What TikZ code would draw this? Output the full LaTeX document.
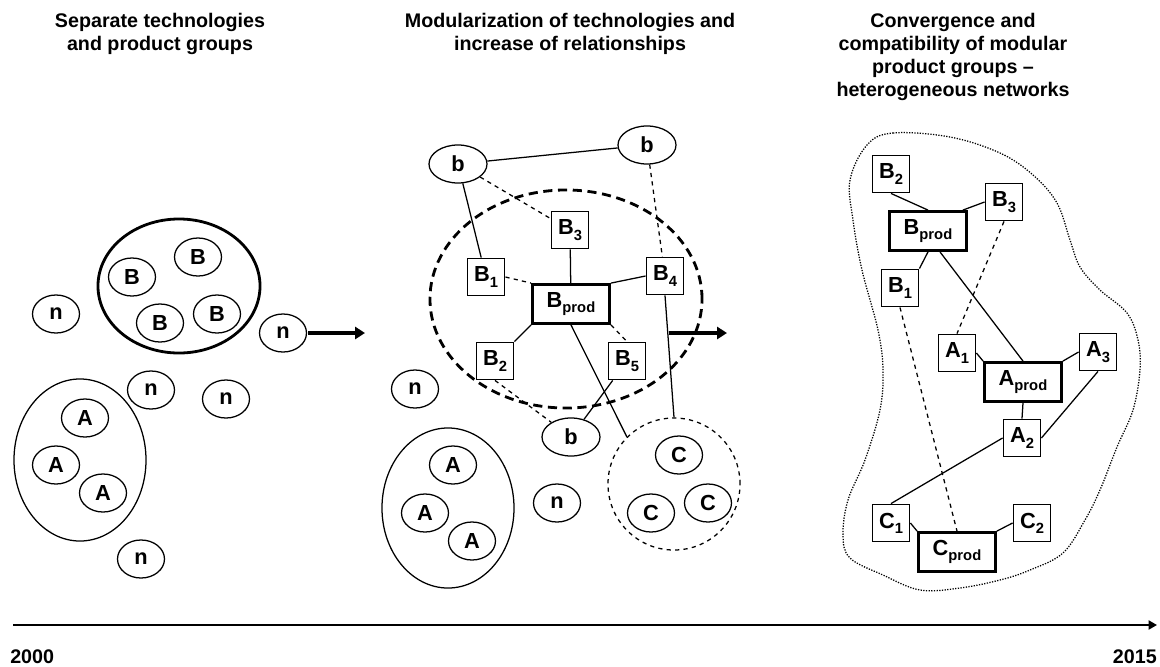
\documentclass[tikz,border=0pt]{standalone}
\usepackage{fontspec}
\setmainfont{Liberation Sans}
\usetikzlibrary{shapes,arrows,arrows.meta,positioning,calc}
\newcommand{\lowtxt}[1]{\raisebox{-0.45ex}{\fontsize{10.5}{10.5}\selectfont #1}}

\begin{document}
\begin{tikzpicture}[x=0.025cm, y=-0.025cm,
  font=\fontsize{14}{16.5}\selectfont\bfseries,
  tech/.style={draw, ellipse, line width=0.9pt, minimum width=1.175cm, minimum height=0.95cm, inner sep=0pt, font=\fontsize{15.5}{16}\selectfont\bfseries},
  loose/.style={tech, minimum width=1.45cm},
  modbox/.style={draw, line width=0.9pt, minimum size=0.94cm, inner sep=0pt, font=\fontsize{15.5}{16}\selectfont\bfseries},
  prodbox/.style={modbox, line width=2pt, minimum width=1.925cm, minimum height=0.975cm},
  link/.style={line width=0.9pt},
  weak/.style={line width=0.9pt, dashed},
  phase/.style={line width=2.2pt, -{Triangle[length=7pt, width=8.5pt]}}]
  \useasboundingbox (0,0) rectangle (1160,666);

  % Titles
  \node[align=center] (title1) at (160,34) {Separate technologies\\and product groups};
  \node[align=center] (title2) at (570,34) {Modularization of technologies and\\increase of relationships};
  \node[align=center] (title3) at (953,57) {Convergence and\\compatibility of modular\\product groups --\\heterogeneous networks};

  % Separate groups
  \node[draw, ellipse, line width=2pt, minimum width=4.05cm, minimum height=3.35cm] (Bset) at (179,286) {};
  \node[tech] (Bs1) at (132,277) {B};
  \node[tech] (Bs2) at (198,257) {B};
  \node[tech] (Bs3) at (160,323) {B};
  \node[tech] (Bs4) at (217,314) {B};
  \node[draw, ellipse, line width=0.9pt, minimum width=3.3cm, minimum height=4.05cm] (Aset) at (80,460) {};
  \node[tech] (As1) at (85,418) {A};
  \node[tech] (As2) at (56,465) {A};
  \node[tech] (As3) at (103,493) {A};
  \node[tech] (ns1) at (56,314) {n};
  \node[tech] (ns2) at (283,333) {n};
  \node[tech] (ns3) at (151,390) {n};
  \node[tech] (ns4) at (226,399) {n};
  \node[tech] (ns5) at (141,559) {n};

  % Phase arrows
  \coordinate (go1) at (308,333);
  \coordinate (to1) at (365,333);
  \coordinate (go2) at (669,333);
  \coordinate (to2) at (727,333);
  \draw[phase] (go1) -- (to1);
  \draw[phase] (go2) -- (to2);

  % Modularization
  \node[draw, ellipse, dash pattern=on 6.5pt off 4pt, line width=2pt, minimum width=6.8cm, minimum height=5.45cm] (Bmod) at (566,299) {};
  \node[loose] (bL) at (458,164) {b};
  \node[loose] (bR) at (647,145) {b};
  \node[loose] (bD) at (571,437) {b};
  \node[prodbox] (Bprod) at (571,304) {B\lowtxt{prod}};
  \node[modbox] (B1) at (486,277) {B\lowtxt{1}};
  \node[modbox] (B2) at (495,361) {B\lowtxt{2}};
  \node[modbox] (B3) at (570,230) {B\lowtxt{3}};
  \node[modbox] (B4) at (665,276) {B\lowtxt{4}};
  \node[modbox] (B5) at (627,361) {B\lowtxt{5}};
  \node[tech] (nm1) at (415,389) {n};
  \node[tech] (nm2) at (557,503) {n};
  \node[draw, ellipse, line width=0.9pt, minimum width=3.3cm, minimum height=4.0cm] (Amod) at (448,508) {};
  \node[tech] (Am1) at (453,465) {A};
  \node[tech] (Am2) at (425,513) {A};
  \node[tech] (Am3) at (472,541) {A};
  \node[draw, circle, dashed, line width=0.9pt, minimum size=3.3cm] (Cmod) at (674,484) {};
  \node[tech] (Cm1) at (679,455) {C};
  \node[tech] (Cm2) at (651,513) {C};
  \node[tech] (Cm3) at (708,503) {C};

  \draw[link] (bL) -- (bR);
  \draw[link] (bL) -- (B1);
  \draw[weak] (bL) -- (B3);
  \draw[weak] (bR) -- (B4);
  \draw[weak] (B1.east) -- (Bprod.north west);
  \draw[link] (B3) -- (Bprod);
  \draw[link] (B4.west) -- (Bprod.north east);
  \draw[link] (Bprod.south west) -- (B2.north east);
  \draw[weak] (Bprod.south east) -- (B5.north);
  \draw[link] (Bprod.south) -- (Cmod.135);
  \draw[link] (B4.south) -- (Cmod.north);
  \draw[link] (B5) -- (bD);
  \draw[weak] (B2.south) -- (bD);

  % Heterogeneous network
  \draw[densely dotted, line width=0.9pt] plot[smooth cycle, tension=0.6] coordinates {
    (867,145) (893,133) (950,137) (1000,153) (1033,175) (1057,203) (1070,240)
    (1080,267) (1100,290) (1127,313) (1138,340) (1140,370) (1133,410) (1117,447)
    (1100,490) (1085,520) (1063,553) (1030,570) (1000,580) (960,588) (920,590)
    (883,575) (850,558) (843,535) (848,500) (865,460) (880,410) (883,370)
    (878,330) (862,270) (853,220) (850,180)};
  \node[prodbox] (BprodN) at (928,231) {B\lowtxt{prod}};
  \node[modbox] (B1N) at (900,288) {B\lowtxt{1}};
  \node[modbox] (B2N) at (891,174) {B\lowtxt{2}};
  \node[modbox] (B3N) at (1004,202) {B\lowtxt{3}};
  \node[prodbox] (AprodN) at (1023,382) {A\lowtxt{prod}};
  \node[modbox] (A1N) at (957,353) {A\lowtxt{1}};
  \node[modbox] (A2N) at (1022,438) {A\lowtxt{2}};
  \node[modbox] (A3N) at (1098,352) {A\lowtxt{3}};
  \node[prodbox] (CprodN) at (957,552) {C\lowtxt{prod}};
  \node[modbox] (C1N) at (891,523) {C\lowtxt{1}};
  \node[modbox] (C2N) at (1032,523) {C\lowtxt{2}};

  \draw[link] (B2N.south) -- (BprodN.north);
  \draw[link] (B3N.west) -- ($(BprodN.north east)+(-5,0)$);
  \draw[link] (BprodN.south) -- (B1N.north east);
  \draw[link] ($(BprodN.south)+(12,0)$) -- (AprodN.north);
  \draw[weak] (B3N.south) -- (A1N.north);
  \draw[weak] (B1N.south) -- (CprodN.north);
  \draw[link] (A1N.east) -- (AprodN.north west);
  \draw[link] (A3N.west) -- (AprodN.north east);
  \draw[link] (AprodN.south) -- (A2N.north);
  \draw[link] (A3N.south) -- (A2N.east);
  \draw[link] (A2N.west) -- (C1N.north);
  \draw[link] (C1N.east) -- (CprodN.north west);
  \draw[link] (C2N.west) -- (CprodN.north east);

  % Time axis
  \coordinate (t0) at (13,625);
  \coordinate (t1) at (1157,625);
  \draw[line width=1.3pt, -{Triangle[length=6pt, width=6.5pt]}] (t0) -- (t1);
  \node[anchor=base west, inner sep=0pt] (y0) at (10,663) {2000};
  \node[anchor=base east, inner sep=0pt] (y1) at (1157,663) {2015};
\end{tikzpicture}
\end{document}
